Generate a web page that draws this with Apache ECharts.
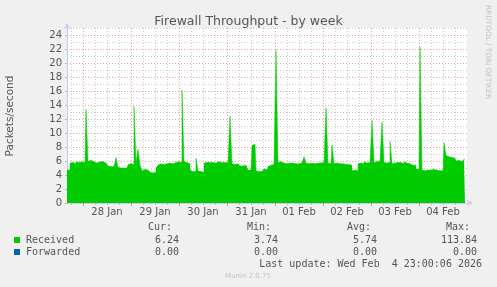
<!DOCTYPE html>
<html><head><meta charset="utf-8">
<script src="https://cdn.jsdelivr.net/npm/echarts@6/dist/echarts.min.js"></script>
<style>html,body{margin:0;padding:0;background:#f0f0f0}#c{width:497px;height:287px}</style>
</head><body><div id="c"></div>
<script>
// hours relative to 28 Jan 00:00; one value per hour
const hourStart = -8;
const received = [
  4.7, 4.7, 5.7, 5.8, 5.6, 5.9, 5.8, 5.9,
  6.0, 5.8, 13.4, 5.9, 6.1, 5.9, 5.8, 5.7, 5.9, 5.8, 5.9, 5.7,
  5.8, 5.3, 5.2, 5.2, 5.3, 6.5, 5.1, 5.0, 5.0, 5.1, 5.0, 5.5,
  5.6, 5.5, 13.8, 5.7, 7.7, 5.4, 4.6, 4.8, 4.7, 4.8, 4.4, 4.3,
  4.4, 5.0, 5.4, 5.6, 5.5, 5.7, 5.6, 5.7, 5.8, 5.6, 5.8, 5.7,
  5.9, 5.8, 16.1, 5.9, 5.8, 5.6, 4.7, 4.5, 4.5, 6.4, 4.6, 4.5,
  4.4, 5.7, 5.8, 5.8, 5.9, 5.8, 5.7, 5.8, 5.9, 5.8, 5.7, 5.8,
  5.8, 5.6, 12.4, 5.6, 5.5, 5.6, 5.5, 5.3, 5.3, 5.4, 5.3, 4.7,
  4.7, 8.2, 8.4, 4.6, 4.5, 4.5, 4.6, 4.9, 4.7, 5.2, 5.4, 5.5,
  5.4, 21.8, 5.8, 5.9, 5.7, 5.8, 5.6, 5.7, 5.9, 5.7, 5.6, 5.7,
  5.6, 5.7, 5.8, 6.6, 5.7, 5.6, 5.7, 5.8, 5.6, 5.7, 5.6, 5.7,
  5.8, 5.6, 13.6, 5.7, 5.6, 8.3, 5.6, 5.7, 5.6, 5.5, 5.6, 5.5,
  5.6, 5.5, 5.4, 4.6, 4.7, 4.6, 5.6, 5.7, 5.6, 5.9, 5.7, 5.8,
  5.8, 11.8, 5.8, 5.9, 6.0, 5.8, 11.6, 5.8, 5.7, 5.8, 8.8, 5.6,
  5.7, 5.8, 5.7, 5.8, 5.6, 5.9, 5.7, 5.6, 5.5, 5.4, 5.4, 4.9,
  4.8, 22.3, 4.7, 4.6, 4.7, 4.6, 4.7, 4.8, 4.6, 4.7, 4.6, 4.7,
  4.6, 8.6, 6.8, 6.6, 6.5, 6.3, 6.4, 6.0, 6.1, 5.9, 6.0, 6.24
];
const dayLabels = ['28 Jan','29 Jan','30 Jan','31 Jan','01 Feb','02 Feb','03 Feb','04 Feb'];
const dayStarts = [0, 24, 48, 72, 96, 120, 144, 168];
const sixHourMarks = [-6,6,12,18,30,36,42,54,60,66,78,84,90,102,108,114,126,132,138,150,156,162,174,180,186];
const yMajor = [0,2,4,6,8,10,12,14,16,18,20,22,24];
const yMinor = [1,3,5,7,9,11,13,15,17,19,21,23,25];
const legendNames = ['Received','Forwarded'];
const legendColors = ['#00cc00','#0066b3'];
const statHeaders = ['Cur:','Min:','Avg:','Max:'];
const receivedStats = ['6.24','3.74','5.74','113.84'];
const forwardedStats = ['0.00','0.00','0.00','0.00'];

const chart = echarts.init(document.getElementById('c'));
const lblFont = {fontFamily:'DejaVu Sans', fontSize:10, color:'#555'};
const mono = 'DejaVu Sans Mono';
const colRight = [172, 271, 371, 470];
const valRight = [179, 278, 377, 477];
const gridRed = 'rgba(222,120,120,0.7)';
const gridGray = '#cccccc';
const graphics = [];
graphics.push({type:'text', x:5, y:116, rotation:Math.PI/2, style:{text:'Packets/second', font:'10.5px DejaVu Sans', fill:'#555', align:'center', verticalAlign:'top'}});
graphics.push({type:'text', x:488, y:5, rotation:-Math.PI/2, style:{text:'RRDTOOL / TOBI OETIKER', font:'7.3px DejaVu Sans', fill:'#c4c4c4', align:'left', verticalAlign:'middle'}});
statHeaders.forEach((h,i)=>graphics.push({type:'text', x:colRight[i], y:227, style:{text:h, font:'10px '+mono, fill:'#555', align:'right', verticalAlign:'middle'}}));
const rowsStats = [receivedStats, forwardedStats];
legendNames.forEach((n,r)=>{
  const y = 240 + r*12;
  graphics.push({type:'rect', shape:{x:14, y:y-3, width:6, height:6}, style:{fill:legendColors[r]}});
  graphics.push({type:'text', x:26, y:y, style:{text:n, font:'10px '+mono, fill:'#555', align:'left', verticalAlign:'middle'}});
  rowsStats[r].forEach((v,i)=>graphics.push({type:'text', x:valRight[i], y:y, style:{text:v, font:'10px '+mono, fill:'#555', align:'right', verticalAlign:'middle'}}));
});
graphics.push({type:'text', x:482, y:264, style:{text:'Last update: Wed Feb  4 23:00:06 2026', font:'10px '+mono, fill:'#555', align:'right', verticalAlign:'middle'}});
graphics.push({type:'text', x:248, y:276, style:{text:'Munin 2.0.75', font:'7px DejaVu Sans', fill:'#c4c4c4', align:'center', verticalAlign:'middle'}});

const option = {
  backgroundColor:'#f0f0f0',
  animation:false,
  title:{text:'Firewall Throughput - by week', left:'center', top:10, textStyle:{fontFamily:'DejaVu Sans', fontSize:12.5, fontWeight:'normal', color:'#555'}},
  grid:{left:67, right:30, top:28, bottom:84, show:true, backgroundColor:'#ffffff', borderWidth:0},
  xAxis:[
    {type:'value', min:-8, max:192, position:'bottom',
     axisLine:{show:false}, axisLabel:{show:false},
     axisTick:{show:true, customValues:sixHourMarks, length:2, lineStyle:{color:'#c0c0c0'}},
     splitLine:{show:true, lineStyle:{color:gridGray, type:[1,2], width:1}}},
    {type:'value', min:-8, max:192, position:'bottom',
     axisLine:{show:true, onZero:false, lineStyle:{color:'#c8c8f4', width:1}, symbol:['none','arrow'], symbolSize:[5,6], symbolOffset:[0,6]},
     axisTick:{show:true, customValues:dayStarts, length:3, lineStyle:{color:'#e09090'}},
     axisLabel:{customValues:dayStarts.map(d=>d+12), formatter:v=>dayLabels[(v-12)/24], margin:4, ...lblFont},
     splitLine:{show:true, lineStyle:{color:gridRed, type:[1,2], width:1}}}
  ],
  yAxis:[
    {type:'value', min:0, max:25, position:'left',
     axisLine:{show:false}, axisLabel:{show:false},
     axisTick:{show:false, customValues:yMinor},
     splitLine:{show:true, lineStyle:{color:gridGray, type:[1,2], width:1}}},
    {type:'value', min:0, max:25, position:'left',
     axisLine:{show:true, onZero:false, lineStyle:{color:'#c8c8f4', width:1}, symbol:['none','arrow'], symbolSize:[5,6], symbolOffset:[0,5]},
     axisTick:{show:true, customValues:yMajor, length:2, lineStyle:{color:'#bbb'}},
     axisLabel:{customValues:yMajor, margin:5, ...lblFont},
     splitLine:{show:true, lineStyle:{color:gridRed, type:[1,2], width:1}}}
  ],
  series:[
    {name:'Received', type:'line', xAxisIndex:1, yAxisIndex:1, step:'middle', showSymbol:false,
     data:received.map((v,i)=>[hourStart+i, v]),
     lineStyle:{width:0.5, color:'#00cc00'}, areaStyle:{color:'#00cc00', opacity:1}, z:3}
  ],
  graphic:graphics
};
chart.setOption(option);
</script></body></html>
